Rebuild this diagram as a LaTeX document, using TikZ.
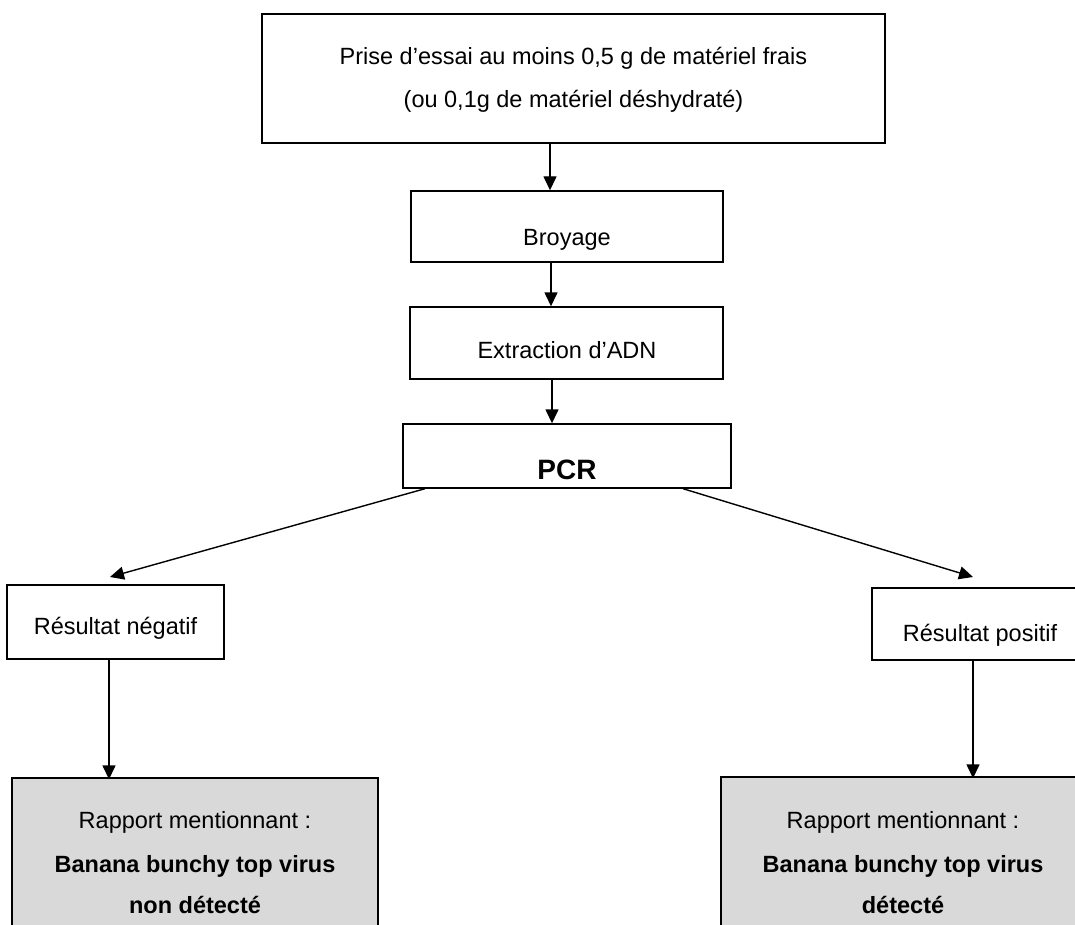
\documentclass[tikz,border=0pt]{standalone}
\usepackage{fontspec}
\setmainfont{Liberation Sans}
\usetikzlibrary{arrows.meta}
\definecolor{boxgrey}{HTML}{D9D9D9}
\begin{document}
\begin{tikzpicture}[x=1pt,y=-1pt,line width=1.4pt,
  box/.style={draw=black,rectangle,inner sep=0pt},
  greybox/.style={box,fill=boxgrey},
  txt/.style={font=\fontsize{23.5}{28}\selectfont,inner sep=0pt,anchor=base},
  btxt/.style={txt,font=\fontsize{23.5}{28}\selectfont\bfseries},
  arr/.style={-{Triangle[length=14pt,width=13pt]}}]
\useasboundingbox (0,0) rectangle (1075,925);
\clip (0,0) rectangle (1075,925);
% boxes
\node[box,minimum width=623pt,minimum height=129pt] (top) at (573.5,78.5) {};
\node[box,minimum width=312pt,minimum height=71pt] (broy) at (567,226.5) {};
\node[box,minimum width=313pt,minimum height=72pt] (extr) at (566.5,343) {};
\node[box,minimum width=328pt,minimum height=64pt] (pcr) at (567,456) {};
\node[box,minimum width=217pt,minimum height=74pt] (neg) at (115.5,622) {};
\node[box,minimum width=216pt,minimum height=72pt] (pos) at (980,624) {};
\node[greybox,minimum width=366pt,minimum height=200pt] (rneg) at (195,878) {};
\node[greybox,minimum width=364pt,minimum height=200pt] (rpos) at (903,877) {};
% texts
\node[txt] (t1) at (573.5,65) {Prise d’essai au moins 0,5 g de matériel frais};
\node[txt] (t2) at (573.5,108) {(ou 0,1g de matériel déshydraté)};
\node[txt] (tb) at (567,245) {Broyage};
\node[txt] (te) at (567,358) {Extraction d’ADN};
\node[btxt,font=\fontsize{28}{32}\selectfont\bfseries] (tp) at (567,479) {PCR};
\node[txt] (tn) at (115.5,634) {Résultat négatif};
\node[txt] (tpo) at (980,641) {Résultat positif};
\node[txt] (r1) at (195,828) {Rapport mentionnant :};
\node[btxt] (r2) at (195,872) {Banana bunchy top virus};
\node[btxt] (r3) at (195,913) {non détecté};
\node[txt] (s1) at (903,828) {Rapport mentionnant :};
\node[btxt] (s2) at (903,872) {Banana bunchy top virus};
\node[btxt] (s3) at (903,913) {détecté};
% connector helper coordinates
\coordinate (x1) at (550,0);
\coordinate (x2) at (551,0);
\coordinate (x3) at (552,0);
\coordinate (pl) at (425,0);
\coordinate (pr) at (683,0);
\coordinate (tipl) at (110,577);
\coordinate (tipr) at (973,577);
\coordinate (xl) at (109,0);
\coordinate (xr) at (973,0);
% connectors
\draw[arr] (top.south -| x1) -- (broy.north -| x1);
\draw[arr] (broy.south -| x2) -- (extr.north -| x2);
\draw[arr] (extr.south -| x3) -- (pcr.north -| x3);
\draw[arr] (pcr.south -| pl) -- (tipl);
\draw[arr] (pcr.south -| pr) -- (tipr);
\draw[arr] (neg.south -| xl) -- ([yshift=-2pt]rneg.north -| xl);
\draw[arr] (pos.south -| xr) -- ([yshift=-2pt]rpos.north -| xr);
\end{tikzpicture}
\end{document}
